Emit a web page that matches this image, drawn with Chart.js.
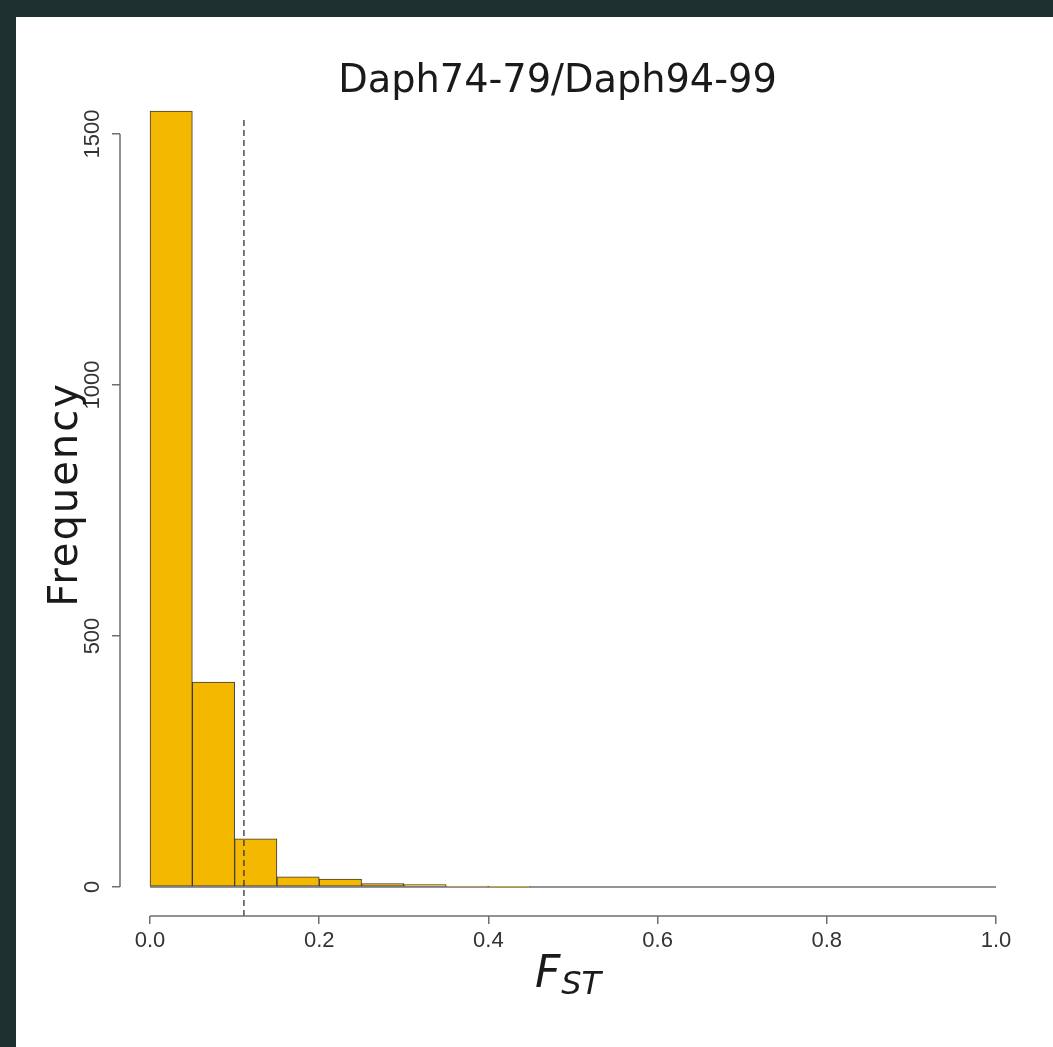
<!DOCTYPE html>
<html>
<head>
<meta charset="utf-8">
<title>Daph74-79/Daph94-99</title>
<script src="https://cdn.jsdelivr.net/npm/chart.js@4.4.1/dist/chart.umd.min.js"></script>
<style>
  html, body { margin: 0; padding: 0; background: #1d2f2e; }
  #panel { position: absolute; left: 16px; top: 17px; width: 1037px; height: 1030px; background: #ffffff; }
</style>
</head>
<body>
<div id="panel"><canvas id="fstChart"></canvas></div>
<script>
/* ── data ── */
const binCenters = [0.025, 0.075, 0.125, 0.175, 0.225, 0.275, 0.325, 0.375, 0.425, 0.475,
                    0.525, 0.575, 0.625, 0.675, 0.725, 0.775, 0.825, 0.875, 0.925, 0.975];
const fstCounts  = [1546, 408, 96, 20, 16, 7, 5, 2, 1, 0,
                    0, 0, 0, 0, 0, 0, 0, 0, 0, 0];
const xTickValues = [0, 0.2, 0.4, 0.6, 0.8, 1.0];
const xTickLabels = ['0.0', '0.2', '0.4', '0.6', '0.8', '1.0'];
const yTickValues = [0, 500, 1000, 1500];
const yTickLabels = ['0', '500', '1000', '1500'];
const baselineX   = [0, 1.0];
const cutoffFst   = 0.111;
const cutoffTop   = 1532;

/* ── plot range (R style: 4% padding around the data range) ── */
const X_MIN = -0.0355, X_MAX = 1.0402;
const Y_MIN = -57.8,   Y_MAX = 1558;

const axisGrey = '#6e6e6e';
const textDark = '#333333';

/* ── R-ish axes: lines only between first and last tick, y labels parallel to axis ── */
const rAxes = {
  id: 'rAxes',
  afterDraw(chart) {
    const { ctx, chartArea, scales: { x, y } } = chart;
    ctx.save();
    ctx.strokeStyle = axisGrey;
    ctx.lineWidth = 1.5;

    const xAxisY = chartArea.bottom;
    ctx.beginPath();
    ctx.moveTo(x.getPixelForValue(xTickValues[0]), xAxisY);
    ctx.lineTo(x.getPixelForValue(xTickValues[xTickValues.length - 1]), xAxisY);
    ctx.stroke();

    const yAxisX = chartArea.left;
    ctx.beginPath();
    ctx.moveTo(yAxisX, y.getPixelForValue(yTickValues[0]));
    ctx.lineTo(yAxisX, y.getPixelForValue(yTickValues[yTickValues.length - 1]));
    ctx.stroke();

    /* y tick labels */
    ctx.fillStyle = textDark;
    ctx.font = '22px "Liberation Sans", Arial, sans-serif';
    ctx.textAlign = 'center';
    ctx.textBaseline = 'middle';
    yTickValues.forEach((v, i) => {
      ctx.save();
      ctx.translate(yAxisX - 27, y.getPixelForValue(v));
      ctx.rotate(-Math.PI / 2);
      ctx.fillText(yTickLabels[i], 0, 0);
      ctx.restore();
    });

    /* y title */
    ctx.fillStyle = '#1a1a1a';
    ctx.font = '40px "DejaVu Sans", sans-serif';
    ctx.save();
    ctx.letterSpacing = '2px';
    ctx.translate(yAxisX - 53, (chartArea.top + chartArea.bottom) / 2 - 16);
    ctx.rotate(-Math.PI / 2);
    ctx.fillText('Frequency', 0, 0);
    ctx.restore();

    /* x title: F with subscript ST */
    const bigFont = 'oblique 44px "DejaVu Sans", sans-serif';
    const subFont = 'oblique 32px "DejaVu Sans", sans-serif';
    ctx.font = bigFont;
    const wF = ctx.measureText('F').width;
    ctx.font = subFont;
    const wST = ctx.measureText('ST').width;
    const cx = x.getPixelForValue(0.5) - 5;
    const left = cx - (wF + 1 + wST) / 2;
    const base = chartArea.bottom + 71;
    ctx.textAlign = 'left';
    ctx.textBaseline = 'alphabetic';
    ctx.font = bigFont;
    ctx.fillText('F', left, base);
    ctx.font = subFont;
    ctx.fillText('ST', left + wF + 1, base + 7);

    ctx.restore();
  }
};

const ctx = document.getElementById('fstChart').getContext('2d');
const chart = new Chart(ctx, {
  type: 'bar',
  data: {
    datasets: [
      {
        type: 'line',
        label: 'cutoff',
        data: [{ x: cutoffFst, y: Y_MIN }, { x: cutoffFst, y: cutoffTop }],
        borderColor: '#333333',
        borderWidth: 1.3,
        borderDash: [6, 4],
        pointRadius: 0,
        order: 0
      },
      {
        label: 'FST',
        data: binCenters.map((c, i) => ({ x: c, y: fstCounts[i] })),
        backgroundColor: '#f5b800',
        borderColor: '#3a3a3a',
        borderWidth: 1,
        borderSkipped: false,
        barPercentage: 1,
        categoryPercentage: 1,
        order: 1
      },
      {
        type: 'line',
        label: 'baseline',
        data: baselineX.map(v => ({ x: v, y: 0 })),
        borderColor: '#707070',
        borderWidth: 1.5,
        pointRadius: 0,
        order: 2
      }
    ]
  },
  options: {
    responsive: true,
    maintainAspectRatio: false,
    animation: false,
    events: [],
    layout: { padding: { left: 69, right: 23, top: 0, bottom: 0 } },
    plugins: {
      legend: { display: false },
      tooltip: { enabled: false },
      title: {
        display: true,
        text: 'Daph74-79/Daph94-99',
        color: '#1a1a1a',
        font: { family: '"DejaVu Sans", sans-serif', size: 38.3, weight: 'normal' },
        padding: { top: 42, bottom: 0 }
      }
    },
    scales: {
      x: {
        type: 'linear',
        min: X_MIN,
        max: X_MAX,
        offset: false,
        afterBuildTicks: s => { s.ticks = xTickValues.map(v => ({ value: v })); },
        afterFit: s => { s.height = 131; },
        ticks: {
          color: textDark,
          font: { family: '"Liberation Sans", Arial, sans-serif', size: 22 },
          padding: 4,
          maxRotation: 0,
          callback: (v, i) => xTickLabels[i]
        },
        grid: { offset: false, drawOnChartArea: false, drawTicks: true, tickLength: 8, color: axisGrey, lineWidth: 1.5 },
        border: { display: false }
      },
      y: {
        min: Y_MIN,
        max: Y_MAX,
        afterBuildTicks: s => { s.ticks = yTickValues.map(v => ({ value: v })); },
        afterFit: s => { s.width = 35; },
        ticks: { display: false },
        grid: { drawOnChartArea: false, drawTicks: true, tickLength: 8, color: axisGrey, lineWidth: 1.5 },
        border: { display: false }
      }
    }
  },
  plugins: [rAxes]
});
</script>
</body>
</html>
